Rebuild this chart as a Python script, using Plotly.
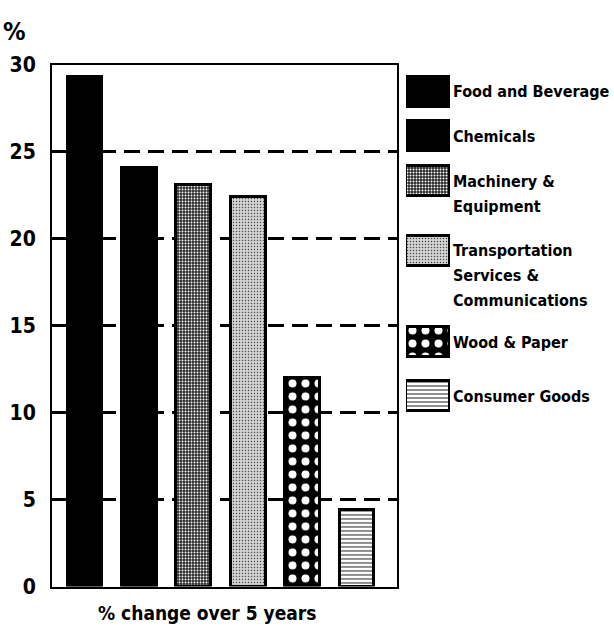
import plotly.graph_objects as go

# data
sectors = ["Food and Beverage", "Chemicals", "Machinery & Equipment",
           "Transportation Services & Communications", "Wood & Paper", "Consumer Goods"]
legend_lines = [["Food and Beverage"], ["Chemicals"], ["Machinery &", "Equipment"],
                ["Transportation", "Services &", "Communications"], ["Wood & Paper"], ["Consumer Goods"]]
pct_change = [29.3, 24.1, 23.1, 22.4, 12.0, 4.4]
y_ticks = [0, 5, 10, 15, 20, 25, 30]

W, H = 614, 639
FONT = "DejaVu Sans Condensed, DejaVu Sans, sans-serif"

fills = ["#000000", "#000000", "#262626", "#d4d4d4", "#000000", "#ffffff"]
pat = dict(
    shape=["", "", ".", ".", ".", "-"],
    fgcolor=["#000000", "#000000", "#8c8c8c", "#7a7a7a", "#ffffff", "#000000"],
    size=[8, 8, 3, 3, 13, 4],
    solidity=[0.3, 0.3, 0.35, 0.2, 0.3, 0.3],
    fgopacity=1,
    fillmode="overlay",
)

# legend slot centres (pixels from top) - layout only
legend_centres = [83, 129, 176, 248, 343, 399]
LINE_GAP = 26

fig = go.Figure()

fig.add_trace(go.Bar(
    x=list(range(len(sectors))), y=pct_change,
    width=0.64,
    marker=dict(color=fills, pattern=pat, line=dict(color="black", width=3)),
    showlegend=False, hoverinfo="skip",
))

# custom legend swatches on their own axis
fig.add_trace(go.Bar(
    y=legend_centres, x=[1] * len(sectors), orientation="h", width=31,
    xaxis="x2", yaxis="y2",
    marker=dict(color=fills, pattern=pat, line=dict(color="black", width=3)),
    showlegend=False, hoverinfo="skip",
))

for lines, yc in zip(legend_lines, legend_centres):
    for i, line in enumerate(lines):
        fig.add_annotation(x=451 / W, y=1 - (yc + i * LINE_GAP) / H, xref="paper", yref="paper",
                           text=line, showarrow=False, xanchor="left", yanchor="middle",
                           font=dict(family=FONT, size=16, color="black", weight="bold"))

fig.add_annotation(x=1 / W, y=1 - 3 / H, xref="paper", yref="paper", text="%",
                   showarrow=False, xanchor="left", yanchor="top",
                   font=dict(family=FONT, size=25, color="black", weight="bold"))
fig.add_annotation(x=207 / W, y=1 - 638 / H, xref="paper", yref="paper",
                   text="% change over 5 years", showarrow=False,
                   xanchor="center", yanchor="bottom",
                   font=dict(family=FONT, size=19, color="black", weight="bold"))

fig.update_layout(
    width=W, height=H,
    margin=dict(l=0, r=0, t=0, b=0),
    paper_bgcolor="white", plot_bgcolor="white",
    bargap=0,
    xaxis=dict(domain=[52 / W, 397 / W], range=[-0.607, 5.735], showticklabels=False,
               showgrid=False, zeroline=False, showline=True, linecolor="black",
               linewidth=2, mirror=True, ticks=""),
    yaxis=dict(domain=[1 - 597 / H, 1 - 55 / H], range=[0, 30], tickvals=y_ticks,
               showgrid=True, gridcolor="black", gridwidth=3, griddash="16px,8px",
               zeroline=False, showline=True, linecolor="black", linewidth=2, mirror=True,
               ticks="", ticklabelstandoff=10,
               tickfont=dict(family=FONT, size=21, color="black", weight="bold")),
    xaxis2=dict(domain=[406 / W, 450 / W], range=[0, 1], visible=False, anchor="y2"),
    yaxis2=dict(domain=[0, 1], range=[H, 0], visible=False, anchor="x2"),
)

fig.write_html("out.html", config={"displayModeBar": False},
               post_script="document.body.style.margin='0';")
